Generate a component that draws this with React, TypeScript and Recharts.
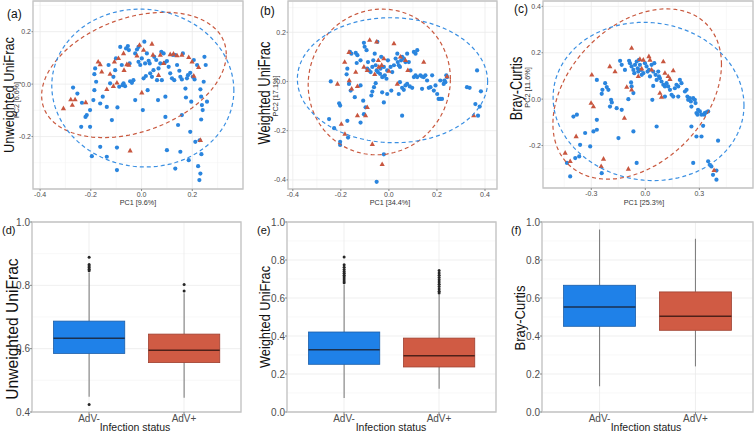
import React from 'react';
import {
    ScatterChart,
    Scatter,
    ComposedChart,
    Bar,
    XAxis,
    YAxis,
    CartesianGrid,
    ReferenceArea,
} from 'recharts';

const FONT = '"Liberation Sans", Arial, sans-serif';
const BLUE = '#2A85DE';
const RED = '#C8563F';
const BOX_FILL = ['#1F81E8', '#D05B44'];
const BOX_EDGE = ['#1A5DA8', '#9E4030'];
const BOX_MED = ['#1B3150', '#4E2119'];
const FRAME = '#C4C4C4';
const GRID = '#EBEBEB';
const GRID_MINOR = '#F4F4F4';
const TICK_TEXT = '#4D4D4D';

// ---- PCoA scores, [PC1, PC2] ----
const unwBlue = [
    [-0.27, -0.013], [-0.253, -0.036], [-0.235, -0.071], [-0.238, -0.163], [-0.221, -0.125], [-0.203, -0.099],
    [-0.19, -0.061], [-0.186, -0.023], [-0.186, 0.038], [-0.183, 0.06], [-0.179, 0.009], [-0.163, -0.074],
    [-0.153, -0.048], [-0.137, -0.087], [-0.13, 0.073], [-0.124, 0.003], [-0.117, -0.137], [-0.111, 0.028],
    [-0.104, 0.053], [-0.101, 0.098], [-0.095, -0.089], [-0.088, -0.01], [-0.084, 0.142], [-0.078, 0.073],
    [-0.075, -0.004], [-0.071, 0.003], [-0.065, -0.008], [-0.061, 0.136], [-0.054, 0.145], [-0.05, 0.13],
    [-0.047, 0.079], [-0.045, 0.011], [-0.038, 0.005], [-0.032, 0.015], [-0.025, 0.117], [-0.025, -0.061],
    [-0.018, 0.132], [-0.012, 0.142], [-0.012, 0.085], [-0.005, 0.073], [0.001, 0.098], [0.005, -0.099],
    [0.008, 0.022], [0.011, 0.162], [0.014, 0.079], [0.017, 0.031], [0.021, 0.117], [0.024, -0.023],
    [0.028, 0.089], [0.032, 0.079], [0.034, 0.041], [0.041, 0.028], [0.047, 0.053], [0.05, 0.104],
    [0.058, 0.092], [0.061, 0.015], [0.065, -0.061], [0.067, 0.06], [0.074, 0.079], [0.078, 0.123],
    [0.08, 0.015], [0.087, 0.117], [0.091, 0.081], [0.094, -0.048], [0.094, -0.125], [0.1, 0.088],
    [0.107, 0.066], [0.113, 0.041], [0.12, 0.022], [0.124, 0.111], [0.129, 0.015], [0.133, 0.111],
    [0.14, 0.073], [0.144, -0.156], [0.149, 0.051], [0.153, 0.028], [0.159, 0.018], [0.163, 0.117],
    [0.173, -0.017], [0.175, -0.051], [0.179, 0.022], [0.183, 0.034], [0.192, 0.043], [0.196, -0.067],
    [0.202, 0.028], [0.206, 0.092], [0.209, 0.018], [0.219, 0.073], [0.232, -0.02], [0.235, -0.048],
    [0.238, -0.08], [0.241, -0.099], [0.245, 0.009], [0.248, 0.104], [0.253, 0.073], [0.258, -0.067],
    [0.235, -0.135], [0.229, -0.214], [0.236, -0.267], [0.212, -0.22], [0.153, -0.258], [0.133, -0.322],
    [0.186, -0.29], [0.232, -0.341], [0.228, -0.366], [0.223, -0.313], [0.192, -0.182], [0.159, -0.118],
    [0.1, -0.252], [-0.097, -0.242], [-0.137, -0.277], [-0.163, -0.239], [-0.196, -0.275], [-0.203, -0.163],
    [-0.216, -0.118], [-0.097, -0.328],
];
const unwRed = [
    [-0.308, -0.093], [-0.279, -0.059], [-0.262, -0.059], [-0.273, -0.08], [-0.22, -0.07], [-0.171, 0.085],
    [-0.157, 0.047], [-0.137, -0.02], [-0.124, 0.038], [-0.107, 0.085], [-0.097, 0.005], [-0.091, 0.098],
    [-0.071, 0.117], [-0.069, 0.053], [-0.058, 0.075], [-0.05, 0.073], [-0.008, 0.149], [0.001, -0.033],
    [0.008, 0.13], [0.041, 0.153], [0.045, 0.111], [0.067, 0.034], [0.087, 0.079], [0.113, 0.113],
    [0.126, 0.115], [0.14, 0.109], [0.159, 0.111], [0.186, 0.102], [0.199, 0.085], [0.225, 0.064],
    [0.206, 0.031], [-0.018, 0.108], [-0.045, -0.254], [0.232, -0.214], [0.074, 0.111], [-0.111, -0.008],
    [-0.163, 0.075],
];

const wBlue = [
    [-0.162, 0.12], [-0.156, 0.113], [-0.138, 0.116], [-0.131, 0.107], [-0.134, 0.075], [-0.118, 0.086],
    [-0.104, 0.157], [-0.101, 0.141], [-0.093, 0.127], [-0.087, 0.079], [-0.09, 0.052], [-0.083, 0.045],
    [-0.076, 0.038], [-0.069, 0.059], [-0.065, 0.086], [-0.059, 0.113], [-0.055, 0.066], [-0.051, 0.045],
    [-0.048, 0.161], [-0.046, 0.038], [-0.037, 0.031], [-0.035, 0.052], [-0.032, 0.1], [-0.028, 0.018],
    [-0.024, 0.02], [-0.021, 0.059], [-0.017, 0.025], [-0.01, 0.011], [-0.007, 0.045], [-0.004, 0.086],
    [0.007, 0.059], [0.014, 0.038], [0.021, 0.066], [0.028, 0.093], [0.035, 0.113], [0.037, 0.079],
    [0.041, 0.066], [0.046, 0.059], [0.051, 0.086], [0.055, 0.1], [0.062, 0.093], [0.069, 0.079],
    [0.076, 0.113], [0.083, 0.079], [0.09, 0.045], [0.104, 0.12], [0.111, 0.113], [0.118, 0.127],
    [-0.173, 0.052], [-0.176, 0.029], [-0.166, -0.01], [-0.159, -0.037], [-0.142, -0.064], [-0.118, -0.016],
    [-0.107, -0.078], [-0.104, -0.133], [-0.097, -0.105], [-0.118, -0.167], [-0.073, -0.057], [-0.069, -0.041],
    [-0.062, -0.023], [-0.055, -0.007], [-0.028, -0.044], [-0.021, -0.085], [-0.007, -0.051], [0.01, -0.037],
    [0.046, -0.003], [0.055, -0.026], [0.062, -0.034], [0.069, -0.016], [0.076, -0.01], [0.087, -0.02],
    [0.097, -0.026], [0.104, 0.018], [0.111, 0.025], [0.118, 0.018], [0.131, 0.025], [0.138, 0.02],
    [0.145, 0.018], [0.152, 0.025], [0.159, 0.004], [0.166, -0.026], [0.173, -0.023], [0.18, 0.025],
    [0.187, -0.037], [0.194, -0.016], [0.201, -0.051], [0.207, -0.071], [0.214, -0.071], [0.221, -0.071],
    [0.228, -0.01], [0.231, 0.004], [0.235, -0.003], [0.239, 0.025], [0.242, 0.018], [0.214, 0.004],
    [0.138, -0.03], [0.041, -0.051], [0.055, -0.139], [-0.242, 0.0], [-0.207, -0.089], [-0.203, -0.098],
    [-0.249, -0.153], [-0.228, -0.19], [-0.203, -0.245], [-0.203, -0.258], [-0.173, -0.16], [-0.17, -0.228],
    [-0.021, -0.296], [-0.051, -0.408], [0.325, -0.023], [0.336, -0.026], [0.367, 0.045], [0.383, -0.04],
    [0.36, -0.092], [0.378, -0.102], [0.371, -0.139],
];
const wRed = [
    [-0.214, -0.01], [-0.184, 0.079], [-0.166, 0.119], [-0.138, 0.038], [-0.165, 0.004], [-0.155, -0.03],
    [-0.131, -0.02], [-0.097, -0.139], [-0.09, -0.105], [-0.131, -0.139], [-0.198, -0.173], [-0.183, -0.214],
    [-0.104, 0.059], [-0.08, 0.168], [-0.051, 0.161], [-0.044, 0.086], [-0.042, 0.059], [-0.03, 0.066],
    [-0.021, 0.093], [0.0, 0.042], [0.021, 0.154], [0.035, -0.01], [0.048, 0.1], [0.069, 0.086],
    [0.079, 0.045], [0.145, 0.079], [-0.069, -0.255], [-0.028, -0.337], [0.242, 0.02], [0.353, -0.139],
    [-0.09, 0.045], [-0.059, 0.029],
];

const bcBlue = [
    [-0.14, 0.165], [-0.131, 0.148], [-0.113, 0.126], [-0.09, 0.165], [-0.085, 0.155], [-0.076, 0.141],
    [-0.066, 0.126], [-0.061, 0.112], [-0.057, 0.148], [-0.048, 0.162], [-0.042, 0.133], [-0.039, 0.119],
    [-0.035, 0.169], [-0.03, 0.148], [-0.024, 0.126], [-0.02, 0.105], [-0.011, 0.112], [-0.002, 0.155],
    [0.007, 0.141], [0.013, 0.119], [0.02, 0.126], [0.026, 0.098], [0.035, 0.148], [0.044, 0.119],
    [0.05, 0.155], [0.057, 0.105], [0.063, 0.083], [0.072, 0.119], [0.076, 0.098], [0.081, 0.09],
    [0.09, 0.076], [0.1, 0.062], [0.109, 0.055], [0.118, 0.069], [0.127, 0.055], [0.137, 0.04],
    [0.146, 0.019], [0.155, 0.011], [0.164, 0.047], [0.173, 0.062], [0.183, 0.055], [0.192, 0.083],
    [0.201, 0.069], [0.22, 0.033], [0.229, 0.04], [0.234, 0.011], [0.238, -0.003], [0.247, 0.004],
    [0.253, -0.01], [0.256, -0.032], [0.266, 0.004], [0.275, -0.003], [0.279, -0.017], [0.284, -0.06],
    [0.29, -0.067], [0.293, -0.046], [0.303, -0.053], [0.312, -0.067], [0.327, -0.067], [0.33, -0.06],
    [0.339, -0.057], [0.349, -0.053], [0.321, -0.115], [0.312, -0.161], [0.284, -0.161], [0.256, -0.118],
    [0.183, 0.011], [0.109, 0.011], [0.039, -0.003], [0.044, 0.057], [-0.079, 0.072], [-0.076, 0.055],
    [-0.066, 0.026], [-0.094, 0.0], [-0.131, -0.046], [-0.159, -0.039], [-0.186, -0.014], [-0.19, -0.003],
    [-0.205, 0.04], [-0.214, 0.052], [-0.223, 0.069], [-0.238, 0.04], [-0.269, 0.083], [-0.242, 0.023],
    [-0.196, -0.032], [-0.269, -0.089], [-0.269, -0.132], [-0.288, -0.139], [-0.306, -0.204], [-0.334, -0.146],
    [-0.362, -0.197], [-0.367, -0.247], [-0.389, -0.254], [-0.417, -0.333], [-0.435, -0.275], [-0.399, -0.075],
    [-0.38, -0.067], [-0.149, -0.168], [-0.066, -0.139], [-0.048, -0.275], [0.063, -0.118], [0.266, -0.275],
    [0.349, -0.268], [0.358, -0.283], [0.367, -0.29], [0.376, -0.326], [0.395, -0.308], [0.395, -0.347],
    [0.404, -0.179], [-0.242, -0.319],
];
const bcRed = [
    [-0.288, -0.032], [-0.301, -0.017], [-0.384, -0.161], [-0.445, -0.232], [-0.417, -0.268], [-0.232, -0.258],
    [-0.245, -0.29], [-0.094, -0.301], [-0.116, -0.082], [-0.076, 0.22], [-0.103, 0.052], [-0.076, 0.04],
    [-0.197, 0.141], [-0.168, 0.119], [-0.297, 0.105], [-0.03, 0.172], [-0.02, 0.131], [0.02, 0.184],
    [0.026, 0.169], [0.1, 0.162], [0.127, 0.098], [0.137, 0.086], [0.155, 0.123], [0.109, 0.112],
    [0.081, 0.026], [0.09, 0.009], [-0.039, 0.098], [0.382, -0.307], [0.035, 0.126], [-0.011, 0.169],
];

// 95% ellipses: [centre x, centre y, half-width, half-height, tilt]
const unwEllBlue = [0.005, -0.015, 0.359, 0.301, -0.03];
const unwEllRed = [-0.03, 0.035, 0.364, 0.239, 0.33];
const wEllBlue = [0.015, 0.005, 0.396, 0.254, -0.02];
const wEllRed = [-0.04, -0.002, 0.296, 0.296, 0.04];
const bcEllBlue = [0.018, -0.01, 0.53, 0.341, -0.05];
const bcEllRed = [-0.045, 0.022, 0.468, 0.367, 0.35];

// ---- distances: [lower whisker, Q1, median, Q3, upper whisker] ----
const groups = ['AdV-', 'AdV+'];
const unwStats = [
    [0.448, 0.585, 0.633, 0.687, 0.84],
    [0.445, 0.556, 0.595, 0.646, 0.775],
];
const unwOutliers = [
    [0.889, 0.866, 0.861, 0.856, 0.851, 0.846, 0.424],
    [0.782, 0.803],
];
const wStats = [
    [0.074, 0.251, 0.328, 0.421, 0.67],
    [0.123, 0.237, 0.296, 0.389, 0.618],
];
const wOutliers = [
    [0.68, 0.69, 0.7, 0.71, 0.72, 0.73, 0.74, 0.75, 0.762, 0.775, 0.816],
    [0.626, 0.636, 0.648, 0.66, 0.672, 0.684, 0.696, 0.708, 0.72, 0.732, 0.745],
];
const bcStats = [
    [0.135, 0.451, 0.553, 0.667, 0.96],
    [0.24, 0.43, 0.504, 0.632, 0.912],
];
const bcOutliers = [[], []];

const toPoints = (arr: number[][]) => arr.map(([x, y]) => ({ x, y }));

function ellipsePath([cx, cy, rx, ry, k]: number[]) {
    const s = Math.sqrt(1 - k * k);
    const pts = [];
    for (let i = 0; i <= 120; i++) {
        const t = (i / 120) * 2 * Math.PI;
        pts.push({ x: cx + rx * Math.cos(t), y: cy + ry * (k * Math.cos(t) + s * Math.sin(t)) });
    }
    return pts;
}

const Dot = (p: any) => <circle cx={p.cx} cy={p.cy} r={2.1} fill={BLUE} />;
const Tri = (p: any) => (
    <polygon
        points={`${p.cx},${p.cy - 2.9} ${p.cx - 2.6},${p.cy + 1.7} ${p.cx + 2.6},${p.cy + 1.7}`}
        fill={RED}
    />
);
const NoDot = () => <g />;

const fmt = (v: number) => v.toFixed(1);

interface PcoaProps {
    left: number;
    width: number;
    height: number;
    yAxisWidth: number;
    xAxisHeight: number;
    marginRight: number;
    blue: number[][];
    red: number[][];
    ellBlue: number[];
    ellRed: number[];
    xDomain: number[];
    yDomain: number[];
    xTicks: number[];
    yTicks: number[];
    xMinor: number[];
    yMinor: number[];
}

function PcoaPanel(p: PcoaProps) {
    const tick = { fontSize: 7, fill: TICK_TEXT, fontFamily: FONT };
    return (
        <div style={{ position: 'absolute', left: p.left, top: 0 }}>
            <ScatterChart width={p.width} height={p.height} margin={{ top: 1, right: p.marginRight, bottom: 0, left: 0 }}>
                <CartesianGrid stroke={GRID_MINOR} strokeWidth={0.6} horizontalValues={p.yMinor} verticalValues={p.xMinor} />
                <CartesianGrid stroke={GRID} strokeWidth={0.8} />
                <XAxis
                    type="number"
                    dataKey="x"
                    domain={p.xDomain}
                    ticks={p.xTicks}
                    allowDataOverflow
                    tickFormatter={fmt}
                    tick={tick}
                    tickSize={2}
                    tickMargin={1}
                    axisLine={false}
                    tickLine={{ stroke: '#888' }}
                    height={p.xAxisHeight}
                />
                <YAxis
                    type="number"
                    dataKey="y"
                    domain={p.yDomain}
                    ticks={p.yTicks}
                    allowDataOverflow
                    tickFormatter={fmt}
                    tick={tick}
                    tickSize={1.5}
                    tickMargin={0.5}
                    axisLine={false}
                    tickLine={{ stroke: '#888' }}
                    width={p.yAxisWidth}
                />
                <Scatter data={toPoints(p.blue)} shape={Dot} isAnimationActive={false} />
                <Scatter data={toPoints(p.red)} shape={Tri} isAnimationActive={false} />
                <Scatter
                    data={ellipsePath(p.ellRed)}
                    shape={NoDot}
                    line={{ stroke: '#C9593F', strokeWidth: 1.2, strokeDasharray: '4 3' }}
                    lineType="joint"
                    isAnimationActive={false}
                />
                <Scatter
                    data={ellipsePath(p.ellBlue)}
                    shape={NoDot}
                    line={{ stroke: '#3A8FE2', strokeWidth: 1.2, strokeDasharray: '4 3' }}
                    lineType="joint"
                    isAnimationActive={false}
                />
                <ReferenceArea
                    x1={p.xDomain[0]}
                    x2={p.xDomain[1]}
                    y1={p.yDomain[0]}
                    y2={p.yDomain[1]}
                    fill="none"
                    stroke={FRAME}
                    strokeWidth={1.3}
                    ifOverflow="visible"
                />
            </ScatterChart>
        </div>
    );
}

const BoxShape = (props: any) => {
    const { x, y, width, height, payload, index } = props;
    const top = Math.min(y, y + height);
    const h = Math.abs(height);
    const bottom = top + h;
    const ppu = h / (payload.q3 - payload.q1);
    const py = (v: number) => bottom - (v - payload.q1) * ppu;
    const cx = x + width / 2;
    return (
        <g>
            <line x1={cx} x2={cx} y1={py(payload.hi)} y2={top} stroke="#808080" strokeWidth={1.1} />
            <line x1={cx} x2={cx} y1={bottom} y2={py(payload.lo)} stroke="#808080" strokeWidth={1.1} />
            <rect x={x} y={top} width={width} height={h} fill={BOX_FILL[index]} stroke={BOX_EDGE[index]} strokeWidth={0.8} />
            <line x1={x} x2={x + width} y1={py(payload.med)} y2={py(payload.med)} stroke={BOX_MED[index]} strokeWidth={1.4} />
            {payload.out.map((v: number, i: number) => (
                <circle key={i} cx={cx} cy={py(v)} r={1.5} fill="#262626" />
            ))}
        </g>
    );
};

interface BoxProps {
    left: number;
    width: number;
    yAxisWidth: number;
    marginRight: number;
    stats: number[][];
    outliers: number[][];
    yDomain: number[];
    yTicks: number[];
    yMinor: number[];
}

function BoxPanel(p: BoxProps) {
    const data = groups.map((name, i) => ({
        name,
        lo: p.stats[i][0],
        q1: p.stats[i][1],
        med: p.stats[i][2],
        q3: p.stats[i][3],
        hi: p.stats[i][4],
        out: p.outliers[i],
    }));
    const plotW = p.width - p.yAxisWidth - p.marginRight;
    const unit = plotW / 2.2;
    const tick = { fontSize: 10, fill: TICK_TEXT, fontFamily: FONT };
    return (
        <div style={{ position: 'absolute', left: p.left, top: 215 }}>
            <ComposedChart width={p.width} height={217} data={data} margin={{ top: 7, right: p.marginRight, bottom: 0, left: 0 }}>
                <CartesianGrid stroke={GRID_MINOR} strokeWidth={0.6} horizontalValues={p.yMinor} vertical={false} />
                <CartesianGrid stroke={GRID} strokeWidth={0.8} />
                <XAxis
                    dataKey="name"
                    padding={{ left: unit * 0.1, right: unit * 0.1 }}
                    tick={tick}
                    tickSize={2.5}
                    tickMargin={0}
                    axisLine={false}
                    tickLine={{ stroke: '#888' }}
                    height={20}
                />
                <XAxis xAxisId="frame" type="number" domain={[0, 1]} hide />
                <YAxis
                    type="number"
                    domain={p.yDomain}
                    ticks={p.yTicks}
                    allowDataOverflow
                    tickFormatter={fmt}
                    tick={tick}
                    tickSize={2}
                    tickMargin={0}
                    axisLine={false}
                    tickLine={{ stroke: '#888' }}
                    width={p.yAxisWidth}
                />
                <Bar
                    dataKey={(d: any) => [d.q1, d.q3]}
                    barSize={unit * 0.75}
                    shape={BoxShape}
                    isAnimationActive={false}
                />
                <ReferenceArea
                    xAxisId="frame"
                    x1={0}
                    x2={1}
                    y1={p.yDomain[0]}
                    y2={p.yDomain[1]}
                    fill="none"
                    stroke={FRAME}
                    strokeWidth={1.3}
                    ifOverflow="visible"
                />
            </ComposedChart>
        </div>
    );
}

const VTitle = ({ x, y, size, sy = 1, children, color = '#111' }: any) => (
    <text
        transform={`translate(${x},${y}) rotate(-90) scale(1,${sy})`}
        textAnchor="middle"
        fontSize={size}
        fill={color}
    >
        {children}
    </text>
);

export default function App() {
    const minor = [-0.3, -0.1, 0.1, 0.3];
    return (
        <div style={{ position: 'relative', width: 755, height: 432, background: '#fff', fontFamily: FONT }}>
            <style>{'body{margin:0}'}</style>
            <PcoaPanel
                left={0} width={250} height={215} yAxisWidth={33} xAxisHeight={26} marginRight={7}
                blue={unwBlue} red={unwRed} ellBlue={unwEllBlue} ellRed={unwEllRed}
                xDomain={[-0.428, 0.4]} yDomain={[-0.4, 0.317]}
                xTicks={[-0.4, -0.2, 0, 0.2]} yTicks={[-0.2, 0, 0.2]}
                xMinor={minor} yMinor={minor}
            />
            <PcoaPanel
                left={250} width={255} height={215} yAxisWidth={38} xAxisHeight={26} marginRight={8}
                blue={wBlue} red={wRed} ellBlue={wEllBlue} ellRed={wEllRed}
                xDomain={[-0.42, 0.45]} yDomain={[-0.437, 0.327]}
                xTicks={[-0.4, -0.2, 0, 0.2, 0.4]} yTicks={[-0.4, -0.2, 0, 0.2]}
                xMinor={minor} yMinor={minor}
            />
            <PcoaPanel
                left={505} width={250} height={215} yAxisWidth={38} xAxisHeight={27} marginRight={2}
                blue={bcBlue} red={bcRed} ellBlue={bcEllBlue} ellRed={bcEllRed}
                xDomain={[-0.568, 0.598]} yDomain={[-0.383, 0.423]}
                xTicks={[-0.3, 0, 0.3]} yTicks={[-0.2, 0, 0.2, 0.4]}
                xMinor={[-0.45, -0.15, 0.15, 0.45]} yMinor={minor}
            />
            <BoxPanel
                left={0} width={250} yAxisWidth={32} marginRight={9}
                stats={unwStats} outliers={unwOutliers}
                yDomain={[0.4, 1.0]} yTicks={[0.4, 0.6, 0.8, 1.0]} yMinor={[0.5, 0.7, 0.9]}
            />
            <BoxPanel
                left={250} width={255} yAxisWidth={37} marginRight={9}
                stats={wStats} outliers={wOutliers}
                yDomain={[0, 1.0]} yTicks={[0, 0.2, 0.4, 0.6, 0.8, 1.0]} yMinor={[0.1, 0.3, 0.5, 0.7, 0.9]}
            />
            <BoxPanel
                left={505} width={250} yAxisWidth={37} marginRight={2}
                stats={bcStats} outliers={bcOutliers}
                yDomain={[0, 1.0]} yTicks={[0, 0.2, 0.4, 0.6, 0.8, 1.0]} yMinor={[0.1, 0.3, 0.5, 0.7, 0.9]}
            />
            <svg
                width={755}
                height={432}
                style={{ position: 'absolute', left: 0, top: 0, pointerEvents: 'none' }}
                fontFamily={FONT}
            >
                <text x={7} y={18} fontSize={12} fill="#111">(a)</text>
                <text x={260} y={15} fontSize={12} fill="#111">(b)</text>
                <text x={514} y={13} fontSize={12} fill="#111">(c)</text>
                <text x={2} y={234} fontSize={11} fill="#111">(d)</text>
                <text x={257} y={234} fontSize={11} fill="#111">(e)</text>
                <text x={511} y={234} fontSize={11} fill="#111">(f)</text>

                <VTitle x={13.5} y={95} size={12.8} sy={1.1}>Unweighted UniFrac</VTitle>
                <VTitle x={270} y={93} size={12.9} sy={1.3}>Weighted UniFrac</VTitle>
                <VTitle x={522} y={88.5} size={12.7} sy={1.3}>Bray-Curtis</VTitle>
                <VTitle x={17.5} y={329} size={15.6}>Unweighted UniFrac</VTitle>
                <VTitle x={270} y={317} size={12.8} sy={1.15}>Weighted UniFrac</VTitle>
                <VTitle x={525} y={318} size={13} sy={1.1}>Bray-Curtis</VTitle>

                <VTitle x={18.5} y={100} size={7.1} color="#333">PC2  [6.6%]</VTitle>
                <VTitle x={278} y={96} size={7.3} color="#333">PC2  [17.1%]</VTitle>
                <VTitle x={530} y={87.5} size={7.3} color="#333">PC2  [11.6%]</VTitle>

                <text x={138} y={205} fontSize={7.2} textAnchor="middle" fill="#333">PC1  [9.6%]</text>
                <text x={390} y={205} fontSize={7.2} textAnchor="middle" fill="#333">PC1  [34.4%]</text>
                <text x={644} y={205} fontSize={7.2} textAnchor="middle" fill="#333">PC1  [25.3%]</text>

                <text x={135} y={431} fontSize={10.5} textAnchor="middle" fill="#222">Infection status</text>
                <text x={391} y={431} fontSize={10.5} textAnchor="middle" fill="#222">Infection status</text>
                <text x={646} y={431} fontSize={10.5} textAnchor="middle" fill="#222">Infection status</text>
            </svg>
        </div>
    );
}
